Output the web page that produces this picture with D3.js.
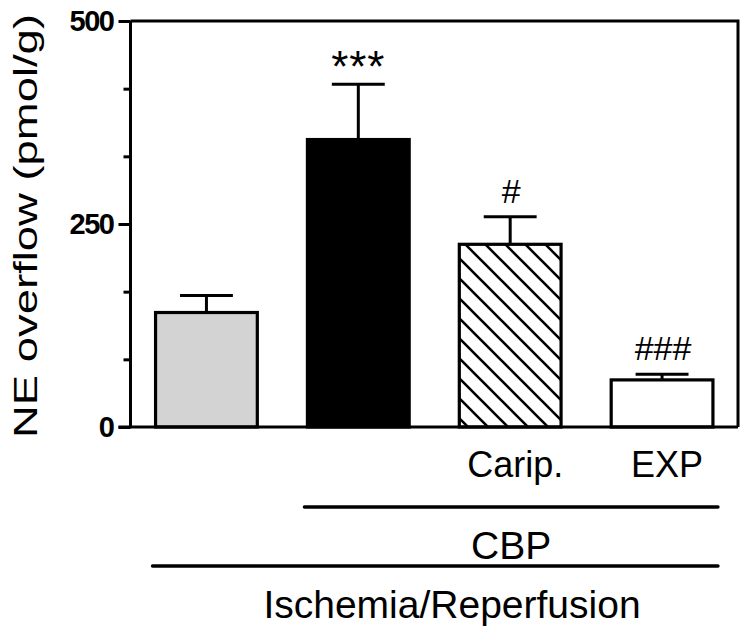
<!DOCTYPE html>
<html>
<head>
<meta charset="utf-8">
<script src="https://cdn.jsdelivr.net/npm/d3@7/dist/d3.min.js"></script>
<style>
  html, body { margin: 0; padding: 0; background: #fff; }
  svg { display: block; font-family: Arial, "Liberation Sans", Helvetica, sans-serif; }
</style>
</head>
<body>
<svg id="chart" width="750" height="630"></svg>
<script>
// ---- data ----
const categories = ["Control", "I/R", "I/R + CBP + Carip.", "I/R + CBP + EXP"];
const means      = [141, 354, 225, 58];
const sems       = [21, 68, 34, 7];
const fills      = ["gray", "black", "hatch", "white"];
const xLabels    = ["", "", "Carip.", "EXP"];
const marks      = ["", "***", "#", "###"];
const yTicks     = [0, 250, 500];
const yMinorTicks = [83.33, 166.67, 333.33, 416.67];
const yTitle     = "NE overflow (pmol/g)";
const groupCBP   = { label: "CBP", from: 1, to: 3 };
const groupIR    = { label: "Ischemia/Reperfusion", from: 0, to: 3 };

// ---- layout ----
const L = 130.5, R = 738, T = 21, B = 427;
const svg = d3.select("#chart");

const x = d3.scaleBand().domain(categories).range([L, R]).paddingInner(0.33).paddingOuter(0.165);
const y = d3.scaleLinear().domain([0, 500]).range([B, T]);
const bw = x.bandwidth();

// hatch pattern
const defs = svg.append("defs");
const pat = defs.append("pattern")
  .attr("id", "hatch").attr("patternUnits", "userSpaceOnUse")
  .attr("width", 20).attr("height", 20).attr("x", 1).attr("y", 0);
pat.append("rect").attr("width", 20).attr("height", 20).attr("fill", "#fff");
pat.append("path").attr("d", "M0,0 L20,20 M-5,15 L5,25 M15,-5 L25,5")
  .attr("stroke", "#000").attr("stroke-width", 2.6);

const fillOf = f => f === "gray" ? "#d3d3d3" : f === "black" ? "#000" : f === "hatch" ? "url(#hatch)" : "#fff";

// bars
const data = categories.map((c, i) => ({ c, m: means[i], s: sems[i], f: fills[i], lab: xLabels[i], mk: marks[i] }));

// error bars
const eg = svg.append("g").attr("stroke", "#000").attr("stroke-width", 3);
data.forEach(d => {
  const cx = x(d.c) + bw / 2;
  eg.append("line").attr("x1", cx).attr("x2", cx).attr("y1", y(d.m)).attr("y2", y(d.m + d.s));
  eg.append("line").attr("x1", cx - bw * 0.26).attr("x2", cx + bw * 0.26).attr("y1", y(d.m + d.s)).attr("y2", y(d.m + d.s));
});

svg.append("g").selectAll("rect").data(data).join("rect")
  .attr("x", d => x(d.c)).attr("width", bw)
  .attr("y", d => y(d.m)).attr("height", d => y(0) - y(d.m))
  .attr("fill", d => fillOf(d.f))
  .attr("stroke", "#000").attr("stroke-width", 3.2);

// significance marks
svg.append("g").selectAll("text").data(data.filter(d => d.mk)).join("text")
  .attr("x", d => x(d.c) + bw / 2 + (d.mk === "***" ? 0 : 1))
  .attr("y", d => y(d.m + d.s) - (d.mk === "***" ? 2 : 14))
  .attr("text-anchor", "middle")
  .attr("font-size", d => d.mk === "***" ? 44 : 34)
  .attr("letter-spacing", d => d.mk === "***" ? 1 : 0)
  .text(d => d.mk);

// frame (top & right)
svg.append("path").attr("d", `M${L},${T} H${R} V${B}`)
  .attr("fill", "none").attr("stroke", "#000").attr("stroke-width", 3);

// x axis baseline
svg.append("line").attr("x1", L - 12).attr("x2", R).attr("y1", B).attr("y2", B)
  .attr("stroke", "#000").attr("stroke-width", 3);

// y axis
const ya = svg.append("g").attr("transform", `translate(${L},0)`)
  .call(d3.axisLeft(y).tickValues(yTicks).tickSize(12).tickPadding(5).tickFormat(d3.format("d")));
ya.selectAll("path, line").attr("stroke", "#000").attr("stroke-width", 3);
ya.select(".domain").attr("d", `M0,${B}V${T}`);
ya.selectAll("text").attr("font-size", 29).attr("font-weight", "bold")
  .attr("font-family", "Arial, 'Liberation Sans', sans-serif").attr("fill", "#000")
  .attr("letter-spacing", -1.5).attr("dy", "0.34em");

const ym = svg.append("g").attr("transform", `translate(${L},0)`)
  .call(d3.axisLeft(y).tickValues(yMinorTicks).tickSize(7).tickFormat(""));
ym.select(".domain").remove();
ym.selectAll("line").attr("stroke", "#000").attr("stroke-width", 3);

// y title
svg.append("text")
  .attr("transform", `translate(37,${(T + B) / 2 + 2}) rotate(-90)`)
  .attr("text-anchor", "middle")
  .attr("font-size", 34)
  .attr("textLength", 424).attr("lengthAdjust", "spacingAndGlyphs")
  .text(yTitle);

// category labels
svg.append("g").selectAll("text").data(data.filter(d => d.lab)).join("text")
  .attr("x", d => x(d.c) + bw / 2 + 5)
  .attr("y", 477)
  .attr("text-anchor", "middle")
  .attr("font-size", 36)
  .text(d => d.lab);

// group brackets
function bracket(g, lineY, textY, textX) {
  const x1 = x(categories[g.from]) - 3, x2 = x(categories[g.to]) + bw + 5;
  svg.append("line").attr("x1", x1).attr("x2", x2).attr("y1", lineY).attr("y2", lineY)
    .attr("stroke", "#000").attr("stroke-width", 3.5).attr("stroke-linecap", "round");
  svg.append("text").attr("x", textX == null ? (x1 + x2) / 2 : textX).attr("y", textY)
    .attr("text-anchor", "middle").attr("font-size", 39).text(g.label);
}
bracket(groupCBP, 507, 559);
bracket(groupIR, 566, 618, 452);
</script>
</body>
</html>
